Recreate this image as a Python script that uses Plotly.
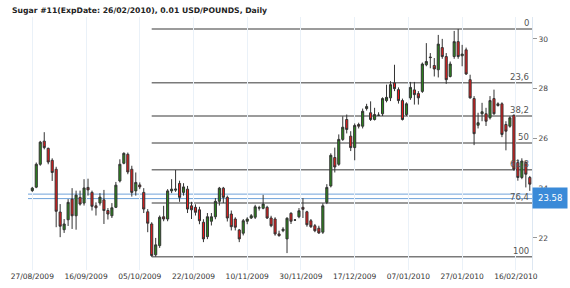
import plotly.graph_objects as go

title_text = "Sugar #11(ExpDate: 26/02/2010), 0.01 USD/POUNDS, Daily"

# OHLC per trading day (index 0 = 27/08/2009)
opens = [23.90, 24.04, 24.96, 25.89, 25.60, 25.12, 24.76, 23.04, 22.33, 22.73,
         23.56, 22.89, 23.63, 23.40, 24.03, 23.83, 23.29, 23.40, 23.53, 23.10,
         22.89, 23.23, 24.29, 25.00, 25.36, 24.76, 23.89, 24.13, 23.83, 23.05,
         22.56, 21.32, 21.69, 22.85, 22.76, 23.89, 23.92, 24.19, 23.83, 23.96,
         23.29, 23.23, 23.13, 22.63, 22.05, 22.67, 22.85, 23.47, 24.00, 23.63,
         22.96, 22.76, 22.32, 22.19, 22.67, 22.80, 22.83, 23.20, 23.19, 23.23,
         22.80, 22.76, 22.16, 22.29, 21.96, 22.99, 22.72, 22.85, 23.23, 23.05,
         22.69, 22.49, 22.39, 22.23, 23.43, 24.09, 25.23, 24.96, 25.96, 26.76,
         26.09, 25.63, 26.56, 26.49, 27.20, 27.03, 26.76, 26.93, 26.99, 27.52,
         27.63, 28.23, 27.96, 27.52, 26.96, 27.63, 27.95, 27.80, 27.89, 28.96,
         29.27, 28.93, 28.76, 29.65, 29.29, 28.49, 29.29, 29.89, 29.32, 29.56,
         28.36, 27.60, 26.53, 26.99, 26.99, 26.83, 27.60, 27.32, 27.39, 26.56,
         26.49, 26.93, 25.03, 24.43, 25.03, 24.43]
highs = [24.05, 25.03, 25.90, 26.25, 25.63, 25.20, 24.86, 23.36, 22.76, 23.56,
         24.00, 23.90, 23.90, 24.36, 24.38, 23.90, 23.43, 23.80, 23.93, 23.20,
         23.40, 24.25, 25.16, 25.44, 25.43, 24.90, 24.63, 24.23, 24.00, 23.16,
         22.63, 22.00, 22.90, 23.29, 23.96, 24.36, 24.73, 24.30, 24.20, 24.09,
         23.45, 23.35, 23.25, 22.75, 23.00, 23.00, 23.60, 24.05, 24.05, 23.70,
         23.10, 22.83, 22.36, 22.76, 22.83, 22.96, 23.33, 23.29, 23.73, 23.29,
         22.89, 22.83, 22.29, 22.43, 22.83, 23.03, 22.76, 23.20, 23.60, 23.09,
         22.76, 22.56, 22.49, 23.39, 24.16, 25.40, 25.63, 26.16, 26.89, 26.96,
         26.29, 26.60, 26.63, 27.20, 27.39, 27.49, 27.23, 27.05, 27.65, 28.16,
         28.30, 28.96, 28.05, 27.60, 27.45, 28.27, 28.27, 27.90, 29.05, 29.83,
         29.43, 29.23, 30.16, 30.00, 29.43, 29.09, 30.32, 30.40, 29.76, 29.65,
         28.56, 27.70, 27.03, 27.43, 27.23, 27.70, 27.96, 27.45, 27.45, 26.69,
         26.89, 26.96, 25.16, 25.20, 25.09, 24.49]
lows = [23.85, 24.00, 24.90, 25.56, 24.96, 24.29, 22.43, 22.03, 22.20, 22.48,
        22.36, 22.33, 23.30, 23.30, 23.70, 23.10, 22.90, 23.30, 22.56, 22.74,
        22.80, 23.20, 24.23, 24.96, 24.56, 23.66, 23.70, 23.96, 23.00, 22.23,
        21.24, 21.25, 21.60, 22.67, 22.67, 23.80, 23.85, 23.45, 23.70, 23.00,
        22.76, 22.90, 22.55, 21.83, 21.95, 22.50, 22.75, 23.30, 23.40, 22.66,
        22.30, 22.30, 21.83, 22.10, 22.55, 22.76, 22.76, 23.10, 23.15, 22.76,
        22.43, 22.09, 22.05, 22.23, 21.39, 22.56, 22.68, 22.79, 22.80, 22.45,
        22.40, 22.23, 22.16, 22.16, 23.36, 24.03, 24.63, 24.90, 25.90, 26.20,
        25.49, 25.12, 26.40, 26.40, 27.12, 26.70, 26.72, 26.90, 26.90, 27.45,
        27.50, 27.90, 27.40, 26.72, 26.90, 27.55, 27.36, 27.36, 27.83, 28.90,
        28.82, 28.49, 28.45, 29.20, 28.19, 28.45, 29.20, 29.20, 28.90, 28.55,
        27.60, 25.73, 26.40, 26.69, 26.50, 26.76, 26.95, 27.28, 26.05, 25.52,
        26.43, 24.70, 24.30, 24.36, 24.03, 23.89]
closes = [24.00, 24.96, 25.85, 25.63, 25.05, 24.63, 23.07, 22.47, 22.56, 23.43,
          22.89, 23.72, 23.36, 24.01, 23.93, 23.27, 23.21, 23.64, 23.10, 22.96,
          23.21, 24.12, 24.96, 25.40, 24.65, 23.83, 24.23, 24.05, 23.16, 22.59,
          21.29, 21.72, 22.83, 22.76, 23.89, 23.96, 23.96, 23.63, 24.05, 23.16,
          23.13, 23.03, 22.69, 21.96, 22.85, 22.85, 23.47, 24.00, 23.63, 22.80,
          22.45, 22.43, 21.96, 22.69, 22.76, 22.89, 23.25, 23.21, 23.36, 22.80,
          22.49, 22.16, 22.09, 22.35, 22.79, 22.67, 22.72, 23.09, 23.15, 22.53,
          22.45, 22.29, 22.20, 23.29, 24.03, 25.32, 24.85, 25.96, 26.45, 26.36,
          25.63, 26.52, 26.49, 27.09, 27.28, 26.76, 26.96, 26.93, 27.60, 27.65,
          28.16, 28.00, 27.52, 26.76, 27.39, 28.05, 27.76, 27.63, 28.99, 29.09,
          29.25, 28.79, 29.79, 29.29, 28.36, 28.99, 29.89, 29.29, 29.39, 28.59,
          27.63, 26.19, 26.63, 27.07, 26.69, 27.52, 26.99, 27.39, 26.16, 26.29,
          26.83, 24.76, 24.43, 25.09, 24.56, 24.16]

date_labels = ["27/08/2009", "16/09/2009", "05/10/2009", "22/10/2009", "10/11/2009",
               "30/11/2009", "17/12/2009", "07/01/2010", "27/01/2010", "16/02/2010"]
label_step = 13.5  # trading days between date labels

fib_ratios = [0.0, 0.236, 0.382, 0.5, 0.618, 0.764, 1.0]
fib_labels = ["0", "23,6", "38,2", "50", "61,8", "76,4", "100"]

last_price = 23.58
ask_price = 23.76
y_ticks = [22, 24, 26, 28, 30]

n = len(opens)
idx = list(range(n))
x_lo, x_hi = -1.08, n - 0.45
y_lo, y_hi = 20.71, 30.88

hi_val = max(highs)
lo_val = min(lows)
lo_idx = lows.index(lo_val)
fib_levels = [hi_val - r * (hi_val - lo_val) for r in fib_ratios]

fig = go.Figure()

fig.add_trace(go.Candlestick(
    x=idx, open=opens, high=highs, low=lows, close=closes,
    increasing=dict(line=dict(color="#333333", width=1), fillcolor="#2b8a1c"),
    decreasing=dict(line=dict(color="#333333", width=1), fillcolor="#ee1b1b"),
    whiskerwidth=0, showlegend=False, hoverinfo="skip",
))

shapes = []
for lvl in fib_levels:
    shapes.append(dict(type="line", xref="x", yref="y", x0=lo_idx, x1=x_hi,
                       y0=lvl, y1=lvl, line=dict(color="#7a7a7a", width=1.5),
                       layer="below"))
for p in (ask_price, last_price):
    shapes.append(dict(type="line", xref="paper", yref="y", x0=0, x1=1,
                       y0=p, y1=p, line=dict(color="#6fa3da", width=1),
                       layer="below"))

annotations = []
for lvl, lab in zip(fib_levels, fib_labels):
    annotations.append(dict(x=x_hi, y=lvl, xref="x", yref="y", text=lab,
                            showarrow=False, xanchor="right", yanchor="bottom",
                            xshift=-1, yshift=-1,
                            font=dict(family="DejaVu Sans", size=8.5, color="#555555")))
annotations.append(dict(x=1, y=last_price, xref="paper", yref="y", text=f"{last_price:.2f}",
                        showarrow=False, xanchor="left", yanchor="middle",
                        bgcolor="#3a8ad8", borderpad=5, yshift=1,
                        font=dict(family="DejaVu Sans", size=8.5, color="#ffffff")))

fig.update_layout(
    width=570, height=288,
    margin=dict(l=28, r=38, t=17, b=18, autoexpand=False),
    paper_bgcolor="white", plot_bgcolor="white",
    boxgap=0.25,
    title=dict(text=title_text, xref="container", yref="container",
               x=12 / 570, xanchor="left", y=1 - 10 / 288, yanchor="middle",
               pad=dict(l=0, r=0, t=0, b=0),
               font=dict(family="DejaVu Sans", size=7.7, color="#222222", weight="bold")),
    shapes=shapes, annotations=annotations,
    xaxis=dict(range=[x_lo, x_hi], rangeslider=dict(visible=False), automargin=False,
               tickvals=[i * label_step for i in range(len(date_labels))],
               ticktext=date_labels, showgrid=True, gridcolor="#eaf1f8", gridwidth=1,
               zeroline=False, showline=False, ticks="",
               tickfont=dict(family="DejaVu Sans", size=7.5, color="#333333")),
    yaxis=dict(range=[y_lo, y_hi], side="right", tickvals=y_ticks, automargin=False,
               ticktext=[str(v) for v in y_ticks], showgrid=False, zeroline=False,
               showline=True, linecolor="#dde7f2", ticks="outside", ticklen=4,
               tickcolor="#999999",
               tickfont=dict(family="DejaVu Sans", size=7.5, color="#444444")),
)

fig.write_html("out.html")
